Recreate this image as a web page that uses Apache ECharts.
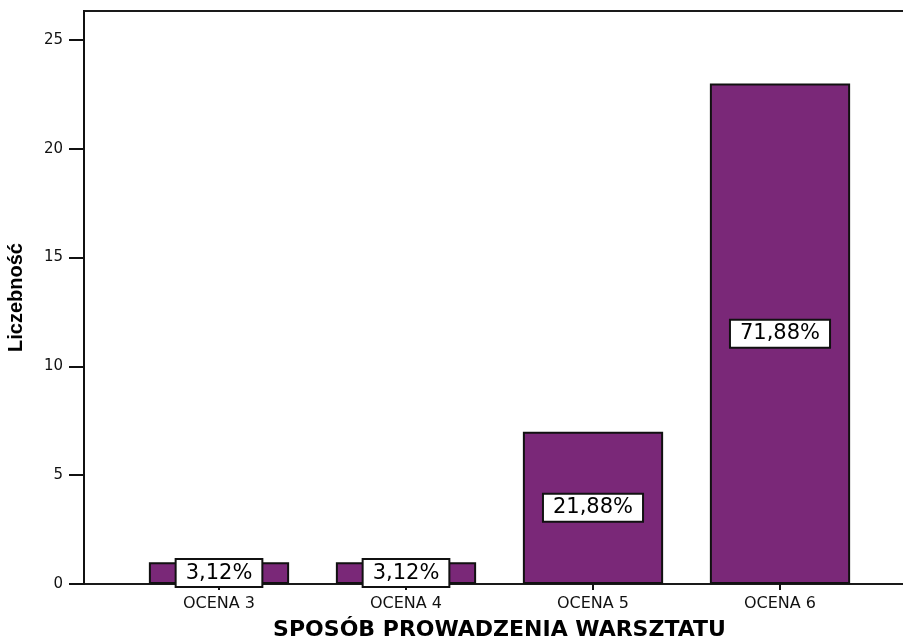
<!DOCTYPE html>
<html>
<head>
<meta charset="utf-8">
<style>
  html, body { margin: 0; padding: 0; background: #fff; }
  #chart { width: 903px; height: 641px; }
</style>
<script src="https://cdn.jsdelivr.net/npm/echarts@6/dist/echarts.min.js"></script>
</head>
<body>
<div id="chart"></div>
<script>
var categories = ['OCENA 3', 'OCENA 4', 'OCENA 5', 'OCENA 6'];
var counts = [1, 1, 7, 23];
var percents = ['3,12%', '3,12%', '21,88%', '71,88%'];
var yTicks = [0, 5, 10, 15, 20, 25];

var font = '"DejaVu Sans", Arial, sans-serif';
var chart = echarts.init(document.getElementById('chart'));

var option = {
    animation: false,
    grid: [
        // frame (axes lines + y ticks)
        { left: 84, right: -3, top: 11, bottom: 57, show: true, borderColor: '#1a1a1a', borderWidth: 2, outerBoundsMode: 'none', containLabel: false },
        // bars
        { left: 125.5, right: 29.5, top: 11, bottom: 57, outerBoundsMode: 'none', containLabel: false }
    ],
    xAxis: [
        { gridIndex: 0, type: 'value', show: false, min: 0, max: 1 },
        {
            gridIndex: 1,
            type: 'category',
            data: categories,
            axisLine: { show: false },
            axisTick: { show: true, alignWithLabel: true, length: 6, lineStyle: { color: '#111', width: 2 } },
            axisLabel: { color: '#111', fontSize: 16, fontFamily: font, margin: 12 },
            name: 'SPOSÓB PROWADZENIA WARSZTATU',
            nameLocation: 'middle',
            nameGap: 35,
            nameTextStyle: { color: '#000', fontSize: 22, fontWeight: 'bold', fontFamily: font }
        }
    ],
    yAxis: [
        {
            gridIndex: 0,
            type: 'value',
            min: 0,
            max: 26.33,
            splitLine: { show: false },
            axisLine: { show: true, lineStyle: { color: '#111', width: 2 } },
            axisTick: { show: true, length: 15, lineStyle: { color: '#111', width: 2 }, customValues: yTicks },
            axisLabel: { color: '#111', fontSize: 15, fontFamily: font, margin: 21, customValues: yTicks },
            name: 'Liczebność',
            nameLocation: 'middle',
            nameGap: 58,
            nameTextStyle: { color: '#000', fontSize: 20, fontWeight: 'bold', fontFamily: '"Liberation Sans", Arial, sans-serif' }
        },
        { gridIndex: 1, type: 'value', min: 0, max: 26.33, show: false, splitLine: { show: false } }
    ],
    series: [{
        type: 'bar',
        xAxisIndex: 1,
        yAxisIndex: 1,
        data: counts,
        barCategoryGap: '25%',
        itemStyle: { color: '#7a2878', borderColor: '#111', borderWidth: 2 },
        label: {
            show: true,
            position: 'inside',
            formatter: function (p) { return percents[p.dataIndex]; },
            color: '#000',
            fontSize: 21,
            fontFamily: font,
            backgroundColor: '#fff',
            borderColor: '#111',
            borderWidth: 2,
            padding: [3, 9, 2, 9]
        }
    }]
};

chart.setOption(option);
</script>
</body>
</html>
